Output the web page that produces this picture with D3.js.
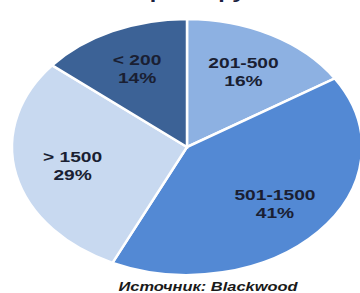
<!DOCTYPE html>
<html>
<head>
<meta charset="utf-8">
<script src="https://cdn.jsdelivr.net/npm/d3@7"></script>
<style>
  body { margin: 0; background: #fff; }
  svg { display: block; }
</style>
</head>
<body>
<script>
var w = 360;
var h = 293;

// data, clockwise from 12 o'clock
var categories = ["201-500", "501-1500", "> 1500", "< 200"];
var shares = [16, 41, 29, 14];
var colors = ["#8db1e2", "#5389d4", "#c8d9f0", "#3c6296"];

var title = "по размеру";
var source = "Источник: Blackwood";

var cx = 187, cy = 147;
var ry = 128, rx = 175;
var sx = rx / ry;

var svg = d3.select("body")
    .append("svg")
    .attr("width", w)
    .attr("height", h);

// title is cut off by the top edge in the original
svg.append("text")
    .attr("x", 180)
    .attr("y", -1)
    .attr("text-anchor", "middle")
    .attr("font-family", "Liberation Sans, Arial, sans-serif")
    .attr("font-weight", "bold")
    .attr("font-size", 17)
    .attr("fill", "#1b2140")
    .attr("transform", "translate(180,0) scale(1.37,1) translate(-180,0)")
    .text(title);

var pie = d3.pie()
    .sort(null)
    .value(function(d) { return d; });

var arcs = pie(shares);

var arc = d3.arc()
    .innerRadius(0)
    .outerRadius(ry);

var labelArc = d3.arc()
    .innerRadius(ry * 0.67)
    .outerRadius(ry * 0.67);

var g = svg.append("g")
    .attr("transform", "translate(" + cx + "," + cy + ") scale(" + sx + ",1)");

g.selectAll("path")
    .data(arcs)
    .enter()
    .append("path")
    .attr("d", arc)
    .attr("fill", function(d, i) { return colors[i]; })
    .attr("stroke", "white")
    .attr("stroke-width", 2.5)
    .attr("vector-effect", "non-scaling-stroke");

var labels = svg.selectAll(".lbl")
    .data(arcs)
    .enter()
    .append("text")
    .attr("class", "lbl")
    .attr("transform", function(d) {
        var c = labelArc.centroid(d);
        return "translate(" + (cx + c[0] * sx) + "," + (cy + c[1]) + ") scale(1.37,1)";
    })
    .attr("text-anchor", "middle")
    .attr("font-family", "Liberation Sans, Arial, sans-serif")
    .attr("font-weight", "bold")
    .attr("font-size", 14)
    .attr("fill", "#1a1f33");

labels.append("tspan")
    .attr("x", 0)
    .attr("y", -4)
    .text(function(d, i) { return categories[i]; });

labels.append("tspan")
    .attr("x", 0)
    .attr("y", 14)
    .text(function(d) { return d.data + "%"; });

svg.append("text")
    .attr("transform", "translate(208,291) scale(1.37,1)")
    .attr("text-anchor", "middle")
    .attr("font-family", "Liberation Sans, Arial, sans-serif")
    .attr("font-weight", "bold")
    .attr("font-style", "italic")
    .attr("font-size", 12)
    .attr("fill", "#1a1a1a")
    .text(source);
</script>
</body>
</html>
